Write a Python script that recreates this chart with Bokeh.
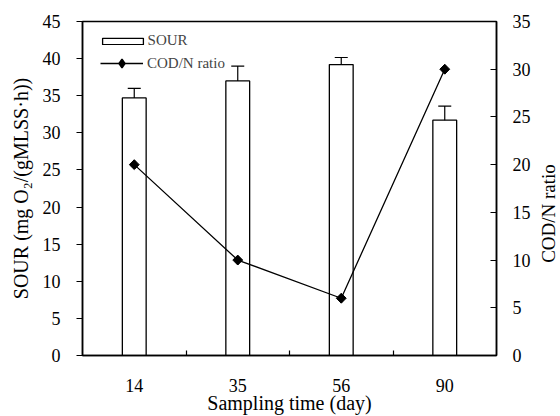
import math
from bokeh.plotting import figure
from bokeh.models import (ColumnDataSource, Range1d, LinearAxis, FixedTicker, Whisker,
                          TeeHead, Legend, LegendItem, Label)
from bokeh.embed import file_html
from bokeh.resources import INLINE

# ---- data ----
days = ["14", "35", "56", "90"]
sour = [34.7, 37.0, 39.2, 31.7]
sour_err = [1.3, 2.0, 0.95, 1.9]
codn = [20, 10, 6, 30]

FONT = "Liberation Serif"

xpos = [i + 1 for i in range(len(days))]
src = ColumnDataSource(dict(
    x=xpos, sour=sour,
    upper=[s + e for s, e in zip(sour, sour_err)],
    lower=[s - e for s, e in zip(sour, sour_err)],
    codn=codn,
))

p = figure(width=560, height=416, output_backend="svg", toolbar_location=None,
           x_range=Range1d(0.5, len(days) + 0.5), y_range=Range1d(0, 45),
           min_border_left=82, min_border_right=64, min_border_top=21, min_border_bottom=61)
p.extra_y_ranges = {"r": Range1d(0, 35)}
p.xgrid.visible = False
p.ygrid.visible = False
p.background_fill_color = "white"
p.border_fill_color = "white"
p.outline_line_color = "black"
p.outline_line_width = 1.5

bars = p.vbar(x="x", top="sour", width=0.23, source=src, fill_color="white",
              line_color="black", line_width=1.3)
wh = Whisker(base="x", upper="upper", lower="lower", source=src,
             line_color="black", line_width=1.2,
             upper_head=TeeHead(size=13, line_color="black", line_width=1.2),
             lower_head=TeeHead(size=13, line_color="black", line_width=1.2))
p.add_layout(wh)

ln = p.line(x="x", y="codn", source=src, y_range_name="r", line_color="black", line_width=1.3)
dmd = p.scatter(x="x", y="codn", source=src, y_range_name="r", marker="diamond", size=8,
                fill_color="black", line_color="black", line_width=1.5)
sc = p.scatter(x="x", y="codn", source=src, y_range_name="r", marker="square", angle=math.pi / 4,
               size=7, fill_color="black", line_color="black")

# x axis
xa = p.xaxis[0]
xa.ticker = FixedTicker(ticks=xpos, minor_ticks=[i + 0.5 for i in range(1, len(days))])
xa.major_label_overrides = {x: d for x, d in zip(xpos, days)}
xa.major_tick_in = 0
xa.major_tick_out = 0
xa.minor_tick_in = 5
xa.minor_tick_out = 0
xa.major_label_standoff = 23
xa.axis_label = "Sampling time (day)"
xa.axis_label_standoff = -3

# left axis
ya = p.yaxis[0]
ya.ticker = FixedTicker(ticks=list(range(0, 46, 5)))
ya.major_tick_in = 0
ya.major_tick_out = 6
ya.major_label_standoff = 16
ya.axis_label = "SOUR (mg O\u2082/(gMLSS\u00b7h))"
ya.axis_label_standoff = 8

# right axis
ra = LinearAxis(y_range_name="r", ticker=FixedTicker(ticks=list(range(0, 36, 5))))
ra.major_tick_in = 6
ra.major_tick_out = 0
ra.major_label_standoff = 16
p.add_layout(ra, "right")

for ax in (xa, ya, ra):
    ax.axis_line_color = "black"
    ax.axis_line_width = 1.5
    ax.major_tick_line_color = "black"
    ax.major_tick_line_width = 1.2
    ax.minor_tick_line_color = "black" if ax is xa else None
    ax.minor_tick_line_width = 1.2
    ax.major_label_text_font = FONT
    ax.major_label_text_font_size = "18px"
    ax.major_label_text_font_style = "normal"
    ax.major_label_text_color = "black"
    ax.axis_label_text_font = FONT
    ax.axis_label_text_font_size = "19px"
    ax.axis_label_text_font_style = "normal"
    ax.axis_label_text_color = "black"
xa.axis_label_text_font_size = "20px"
ya.axis_label_text_font_size = "20px"

# right axis title, reading bottom-to-top like the reference (in its own side panel)
rlab = Label(x=15, y=142, x_units="screen", y_units="screen", text="COD/N ratio",
             angle=math.pi / 2, text_align="center", text_baseline="middle",
             text_font=FONT, text_font_size="19px", text_color="black")
p.add_layout(rlab, "right")

# legends
leg1 = Legend(items=[LegendItem(label="SOUR", renderers=[bars])],
              location=(14.6, 306), padding=0, margin=0, glyph_width=51, glyph_height=8,
              label_height=8, label_standoff=0, border_line_alpha=0, background_fill_alpha=0,
              label_text_font=FONT, label_text_font_size="15px")
leg2 = Legend(items=[LegendItem(label="COD/N ratio", renderers=[ln, dmd])],
              location=(18, 281), padding=0, margin=0, glyph_width=43, glyph_height=22,
              label_height=22, label_standoff=4, border_line_alpha=0, background_fill_alpha=0,
              label_text_font=FONT, label_text_font_size="15px")
p.add_layout(leg1, "center")
p.add_layout(leg2, "center")

open("out.html", "w").write(file_html(p, INLINE))
